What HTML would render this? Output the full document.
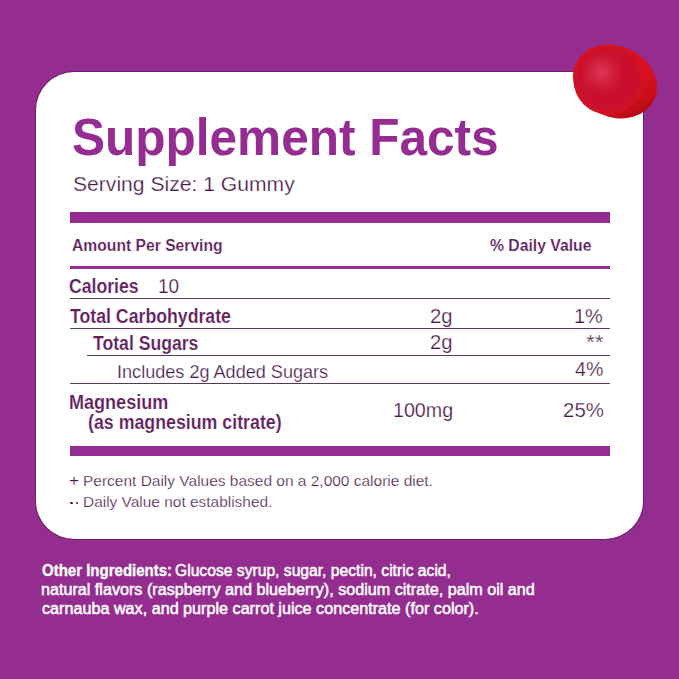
<!DOCTYPE html>
<html><head><meta charset="utf-8"><style>
html,body{margin:0;padding:0}
body{width:679px;height:679px;overflow:hidden;position:relative;background:#952d90;font-family:"Liberation Sans",sans-serif}
.card{position:absolute;left:36px;top:72px;width:607px;height:466.5px;background:#fff;border-radius:38px;box-shadow:0 0 0 1px #6c1f68}
.t{position:absolute;white-space:pre;transform-origin:0 0}
.r{position:absolute}
</style></head><body>
<div class="card"></div>
<div class="r" style="left:69.5px;top:212.2px;width:540.3px;height:11.3px;background:#942c91"></div>
<div class="r" style="left:69.5px;top:265.9px;width:540.3px;height:3.4px;background:#942c91"></div>
<div class="r" style="left:70px;top:298px;width:540px;height:1px;background:#5a3a58"></div>
<div class="r" style="left:70px;top:328px;width:540px;height:1px;background:#5a3a58"></div>
<div class="r" style="left:87px;top:355px;width:523px;height:1px;background:#5a3a58"></div>
<div class="r" style="left:70px;top:383px;width:540px;height:1px;background:#5a3a58"></div>
<div class="r" style="left:69.5px;top:446.2px;width:540.3px;height:10.2px;background:#942c91"></div>
<div class="r" style="left:70.4px;top:501.5px;width:2.4px;height:2.4px;border-radius:50%;background:#4a1748"></div><div class="r" style="left:75.8px;top:501.5px;width:2.4px;height:2.4px;border-radius:50%;background:#4a1748"></div>
<div class="t" id="title" style="left:72.03px;top:111.90px;font-size:51.5px;line-height:51.5px;font-weight:700;color:#942c91;transform:scaleX(0.9617);">Supplement Facts</div>
<div class="t" id="serv" style="left:72.99px;top:174.19px;font-size:20.8px;line-height:20.8px;font-weight:400;color:#4a1748;transform:scaleX(1.0150);-webkit-text-stroke:0.25px #fff;">Serving Size: 1 Gummy</div>
<div class="t" id="aps" style="left:71.82px;top:236.93px;font-size:16.5px;line-height:16.5px;font-weight:700;color:#641f62;transform:scaleX(0.9494);-webkit-text-stroke:0.15px #fff;">Amount Per Serving</div>
<div class="t" id="dv" style="left:490.40px;top:237.86px;font-size:16.7px;line-height:16.7px;font-weight:700;color:#641f62;transform:scaleX(0.9431);-webkit-text-stroke:0.15px #fff;">% Daily Value</div>
<div class="t" id="cal" style="left:69.32px;top:275.77px;font-size:20px;line-height:20px;font-weight:700;color:#641f62;transform:scaleX(0.8819);-webkit-text-stroke:0.15px #fff;">Calories</div>
<div class="t" id="ten" style="left:158.33px;top:275.77px;font-size:20px;line-height:20px;font-weight:400;color:#4a1748;transform:scaleX(0.9499);-webkit-text-stroke:0.25px #fff;">10</div>
<div class="t" id="tc" style="left:69.64px;top:305.67px;font-size:20px;line-height:20px;font-weight:700;color:#641f62;transform:scaleX(0.8848);-webkit-text-stroke:0.15px #fff;">Total Carbohydrate</div>
<div class="t" id="tc2" style="left:430.28px;top:305.87px;font-size:20px;line-height:20px;font-weight:400;color:#4a1748;transform:scaleX(1.0106);-webkit-text-stroke:0.25px #fff;">2g</div>
<div class="t" id="tc3" style="left:573.53px;top:305.87px;font-size:20px;line-height:20px;font-weight:400;color:#4a1748;transform:scaleX(0.9972);-webkit-text-stroke:0.25px #fff;">1%</div>
<div class="t" id="ts" style="left:92.92px;top:332.97px;font-size:20px;line-height:20px;font-weight:700;color:#641f62;transform:scaleX(0.8811);-webkit-text-stroke:0.15px #fff;">Total Sugars</div>
<div class="t" id="ts2" style="left:430.28px;top:332.07px;font-size:20px;line-height:20px;font-weight:400;color:#4a1748;transform:scaleX(1.0106);-webkit-text-stroke:0.25px #fff;">2g</div>
<div class="t" id="ts3" style="left:586.05px;top:332.07px;font-size:20px;line-height:20px;font-weight:400;color:#4a1748;transform:scaleX(1.1288);-webkit-text-stroke:0.25px #fff;">**</div>
<div class="t" id="inc" style="left:116.52px;top:361.91px;font-size:19.0px;line-height:19.0px;font-weight:400;color:#4a1748;transform:scaleX(0.9519);-webkit-text-stroke:0.25px #fff;">Includes 2g Added Sugars</div>
<div class="t" id="inc3" style="left:574.74px;top:359.37px;font-size:20px;line-height:20px;font-weight:400;color:#4a1748;transform:scaleX(0.9799);-webkit-text-stroke:0.25px #fff;">4%</div>
<div class="t" id="mg" style="left:69.13px;top:392.07px;font-size:20px;line-height:20px;font-weight:700;color:#641f62;transform:scaleX(0.9023);-webkit-text-stroke:0.15px #fff;">Magnesium</div>
<div class="t" id="mgc" style="left:88.15px;top:411.67px;font-size:20px;line-height:20px;font-weight:700;color:#641f62;transform:scaleX(0.8889);-webkit-text-stroke:0.15px #fff;">(as magnesium citrate)</div>
<div class="t" id="mg2" style="left:392.59px;top:400.27px;font-size:20px;line-height:20px;font-weight:400;color:#4a1748;transform:scaleX(0.9832);-webkit-text-stroke:0.25px #fff;">100mg</div>
<div class="t" id="mg3" style="left:562.56px;top:400.27px;font-size:20px;line-height:20px;font-weight:400;color:#4a1748;transform:scaleX(1.0227);-webkit-text-stroke:0.25px #fff;">25%</div>
<div class="t" id="plus" style="left:69.30px;top:472.21px;font-size:17.0px;line-height:17.0px;font-weight:400;color:#4a1748;transform:scaleX(1.0188);-webkit-text-stroke:0.2px #fff;">+</div>
<div class="t" id="fn1" style="left:82.52px;top:473.30px;font-size:15.0px;line-height:15.0px;font-weight:400;color:#4a1748;transform:scaleX(1.0319);-webkit-text-stroke:0.25px #fff;">Percent Daily Values based on a 2,000 calorie diet.</div>
<div class="t" id="fn2" style="left:82.53px;top:493.70px;font-size:15.0px;line-height:15.0px;font-weight:400;color:#4a1748;transform:scaleX(1.0291);-webkit-text-stroke:0.25px #fff;">Daily Value not established.</div>
<div class="t w" id="oi" style="left:41.96px;top:563.09px;font-size:15.6px;line-height:15.6px;font-weight:700;color:#fff;transform:scaleX(0.9624);-webkit-text-stroke:0.3px #fff;">Other Ingredients:</div>
<div class="t w" id="oi1" style="left:175.45px;top:563.09px;font-size:15.6px;line-height:15.6px;font-weight:400;color:#fff;transform:scaleX(1.0043);-webkit-text-stroke:0.5px #fff;">Glucose syrup, sugar, pectin, citric acid,</div>
<div class="t w" id="oi2" style="left:41.38px;top:582.09px;font-size:15.6px;line-height:15.6px;font-weight:400;color:#fff;transform:scaleX(1.0358);-webkit-text-stroke:0.5px #fff;">natural flavors (raspberry and blueberry), sodium citrate, palm oil and</div>
<div class="t w" id="oi3" style="left:42.14px;top:600.79px;font-size:15.6px;line-height:15.6px;font-weight:400;color:#fff;transform:scaleX(1.0368);-webkit-text-stroke:0.5px #fff;">carnauba wax, and purple carrot juice concentrate (for color).</div>
<svg class="g" width="110" height="100" viewBox="0 0 110 100" style="position:absolute;left:560px;top:32px">
<defs>
 <linearGradient id="sd" gradientUnits="userSpaceOnUse" x1="70" y1="40" x2="98" y2="62">
  <stop offset="0" stop-color="#d9101f"/>
  <stop offset="0.55" stop-color="#cc0e1a"/>
  <stop offset="1" stop-color="#b40b14"/>
 </linearGradient>
 <radialGradient id="hl" cx="41.7" cy="40.6" r="22" gradientUnits="userSpaceOnUse">
  <stop offset="0" stop-color="#de3858"/>
  <stop offset="0.45" stop-color="#d4223f"/>
  <stop offset="1" stop-color="#c90f2d"/>
 </radialGradient>
 <radialGradient id="rim" cx="48.5" cy="47.5" r="35" gradientUnits="userSpaceOnUse">
  <stop offset="0.84" stop-color="#d8121e" stop-opacity="0"/>
  <stop offset="1" stop-color="#d8121e" stop-opacity="0.85"/>
 </radialGradient>
</defs>
<ellipse cx="55" cy="49.6" rx="43.3" ry="35.4" transform="rotate(24.6 55 49.6)" fill="url(#sd)"/>
<circle cx="48.5" cy="47.5" r="35" fill="url(#hl)"/>
<circle cx="48.5" cy="47.5" r="35" fill="url(#rim)"/>
</svg>
</body></html>
